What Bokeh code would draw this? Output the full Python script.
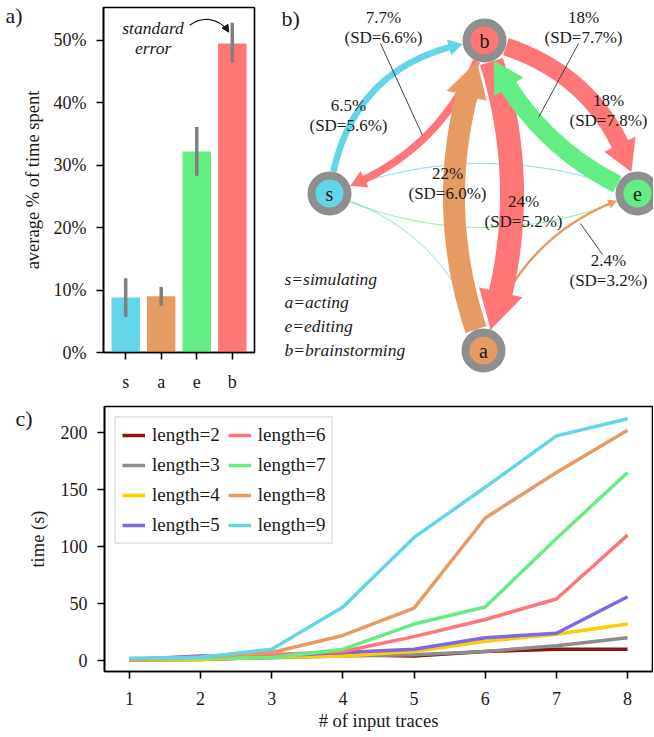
import numpy as np
from bokeh.plotting import figure
from bokeh.layouts import column, row
from bokeh.models import (Range1d, FixedTicker, PrintfTickFormatter, LinearAxis,
                          Legend, LegendItem, Arrow, NormalHead)
from bokeh.embed import file_html
from bokeh.resources import INLINE
from bokeh.core.properties import value

FONT = "Liberation Serif"
INK = "#1a1a1a"

# ---------------- data: panel a ----------------
activities = ["s", "a", "e", "b"]
activity_names = ["simulating", "acting", "editing", "brainstorming"]
activity_colors = ["#62D5E7", "#E59B62", "#63EE84", "#FF7676"]
time_share = [8.8, 9.0, 32.2, 49.5]
se_low = [5.7, 7.5, 28.3, 46.4]
se_high = [11.9, 10.5, 36.1, 52.8]

# ---------------- data: panel b (transitions) ----------------
edge_src = ["s", "e", "s", "a", "b", "s", "b", "b", "e", "a"]
edge_dst = ["e", "s", "a", "e", "s", "b", "e", "a", "b", "b"]
edge_pct = [0.9, 0.9, 0.8, 2.4, 7.7, 6.5, 18, 24, 18, 22]
edge_sd = [None, None, None, 3.2, 6.6, 5.6, 7.8, 5.2, 7.7, 6.0]

# ---------------- data: panel c ----------------
n_traces = [1, 2, 3, 4, 5, 6, 7, 8]
length_labels = ["length=2", "length=3", "length=4", "length=5",
                 "length=6", "length=7", "length=8", "length=9"]
time_len2 = [0.5, 1.0, 3.0, 5.0, 4.0, 8.0, 10.0, 10.0]
time_len3 = [1.0, 1.5, 2.5, 4.0, 5.0, 8.0, 13.0, 20.0]
time_len4 = [0.5, 1.0, 3.0, 4.0, 8.0, 17.0, 23.0, 32.0]
time_len5 = [1.0, 4.0, 4.0, 7.0, 10.0, 20.0, 24.0, 56.0]
time_len6 = [1.0, 3.0, 5.0, 8.0, 21.0, 36.0, 54.0, 110.0]
time_len7 = [1.0, 2.0, 2.5, 10.0, 32.0, 47.0, 107.0, 165.0]
time_len8 = [1.0, 3.0, 7.0, 22.0, 46.0, 125.0, 165.0, 202.0]
time_len9 = [2.0, 3.0, 10.0, 47.0, 108.0, 152.0, 197.0, 212.0]
length_colors = ["#8a1515", "#8c8c8c", "#FFCC00", "#7B68EE",
                 "#FF7676", "#63EE84", "#E59B62", "#62D5E7"]


def style_axes(p):
    for ax in p.axis:
        ax.axis_line_color = "black"
        ax.axis_line_width = 1.6
        ax.major_tick_line_color = "black"
        ax.major_tick_line_width = 1.6
        ax.major_tick_out = 7
        ax.major_tick_in = 0
        ax.minor_tick_out = 0
        ax.minor_tick_in = 0
        ax.major_label_text_font = FONT
        ax.major_label_text_font_size = "18px"
        ax.major_label_text_color = INK
        ax.major_label_standoff = 10
        ax.axis_label_text_font = FONT
        ax.axis_label_text_font_size = "18.5px"
        ax.axis_label_text_font_style = "normal"
        ax.axis_label_text_color = INK
    p.grid.visible = False
    p.outline_line_color = "black"
    p.outline_line_width = 1.6
    p.outline_line_alpha = 1.0


def panel_tag(p, tag, y, standoff):
    ax = LinearAxis(ticker=FixedTicker(ticks=[y]),
                    major_label_overrides={y: tag},
                    axis_line_color=None, major_tick_line_color=None,
                    minor_tick_line_color=None, major_tick_out=0,
                    major_tick_in=0, minor_tick_out=0, minor_tick_in=0,
                    major_label_standoff=standoff,
                    major_label_text_font=FONT,
                    major_label_text_font_size="22px",
                    major_label_text_color=INK)
    p.add_layout(ax, "left")


ROW_H = 394

# ================= panel a =================
idx = list(range(len(activities)))
pa = figure(width=280, height=ROW_H, x_range=Range1d(-0.625, 3.625),
            y_range=Range1d(0, 55.25), output_backend="svg",
            toolbar_location=None, min_border_left=103, min_border_right=26,
            min_border_top=7, min_border_bottom=ROW_H - 354)
pa.frame_align = False
pa.vbar(x=idx, top=time_share, width=0.8, fill_color=activity_colors,
        line_color=None)
pa.segment(x0=idx, y0=se_low, x1=idx, y1=se_high, line_color="#808080",
           line_width=3.5)
style_axes(pa)
pa.yaxis.ticker = FixedTicker(ticks=[0, 10, 20, 30, 40, 50])
pa.yaxis.formatter = PrintfTickFormatter(format="%d%%")
pa.yaxis.axis_label = "average % of time spent"
pa.yaxis.axis_label_standoff = 8
pa.xaxis.ticker = FixedTicker(ticks=idx)
pa.xaxis.major_label_overrides = {i: a for i, a in enumerate(activities)}
pa.xaxis.major_label_standoff = 12
panel_tag(pa, "a)", 54, -3)

# "standard error" annotation
pa.text(x=[0.77, 0.77], y=[52.0, 48.8], text=["standard", "error"],
        text_font=value(FONT), text_font_size="17.5px",
        text_font_style="italic", text_color=INK, text_align="center",
        text_baseline="middle")
pa.bezier(x0=[1.80], y0=[52.4], x1=[2.86], y1=[51.6], cx0=[2.15], cy0=[53.9],
          cx1=[2.60], cy1=[53.6], line_color=INK, line_width=1.2)
pa.add_layout(Arrow(end=NormalHead(size=7, fill_color=INK, line_color=INK),
                    x_start=2.80, y_start=52.2, x_end=2.90, y_end=51.3,
                    line_color=INK, line_width=1.2))

# ================= panel b =================
node_pos = {"b": (484, 40), "s": (329, 193), "e": (637, 193), "a": (483, 350)}
node_color = dict(zip(activities, activity_colors))
edge_sag = {("s", "e"): 30, ("e", "s"): 34, ("s", "a"): 30, ("a", "e"): 30,
            ("b", "s"): 27, ("s", "b"): 42, ("b", "e"): 33, ("b", "a"): 28,
            ("e", "b"): 22, ("a", "b"): 30}
label_pos = {("s", "b"): (348, 105), ("b", "s"): (383, 17),
             ("b", "e"): (608, 100), ("e", "b"): (583, 17),
             ("a", "b"): (447, 173), ("b", "a"): (523, 201),
             ("a", "e"): (608, 260)}
leaders = {("b", "s"): ((380, 43), (422, 135)),
           ("e", "b"): ((578, 43), (538, 117)),
           ("a", "e"): ((602, 254), (580, 223))}
PX_PER_PCT = 1.0
R_NODE = 22.0


def curve_points(p0, p2, sag, R=R_NODE, n=800):
    p0 = np.asarray(p0, float)
    p2 = np.asarray(p2, float)
    d = p2 - p0
    L = np.hypot(d[0], d[1])
    nrm = np.array([d[1], -d[0]]) / L
    c = (p0 + p2) / 2 + nrm * 2 * sag
    t = np.linspace(0, 1, n)[:, None]
    pts = (1 - t) ** 2 * p0 + 2 * (1 - t) * t * c + t ** 2 * p2
    keep = (np.hypot(*(pts - p0).T) >= R) & (np.hypot(*(pts - p2).T) >= R)
    return pts[keep]


def arrow_polygon(pts, w, hw, hl):
    seg = np.diff(pts, axis=0)
    s = np.concatenate([[0], np.cumsum(np.hypot(seg[:, 0], seg[:, 1]))])
    S = s[-1]
    tan = np.gradient(pts, axis=0)
    tan /= np.hypot(tan[:, 0], tan[:, 1])[:, None]
    nor = np.stack([-tan[:, 1], tan[:, 0]], axis=1)
    sb = S - hl
    m = s <= sb
    sh = pts[m]
    nh = nor[m]
    base = np.array([np.interp(sb, s, pts[:, 0]), np.interp(sb, s, pts[:, 1])])
    bn = nh[-1]
    left = sh + nh * w / 2
    right = sh - nh * w / 2
    poly = np.vstack([left, base + bn * w / 2, base + bn * hw / 2, pts[-1],
                      base - bn * hw / 2, base - bn * w / 2, right[::-1]])
    return list(poly[:, 0]), list(poly[:, 1])


pb = figure(width=373, height=ROW_H, x_range=Range1d(280, 653),
            y_range=Range1d(ROW_H, 0), output_backend="svg",
            toolbar_location=None, min_border=0,
            x_axis_location=None, y_axis_location=None)
pb.frame_align = False
pb.grid.visible = False
pb.outline_line_color = None

thin_x, thin_y, thin_c, thin_w = [], [], [], []
pat_x, pat_y, pat_c = [], [], []
for src, dst, pct in zip(edge_src, edge_dst, edge_pct):
    pts = curve_points(node_pos[src], node_pos[dst], edge_sag[(src, dst)])
    w = pct * PX_PER_PCT
    if w < 2:
        thin_x.append(list(pts[:, 0]))
        thin_y.append(list(pts[:, 1]))
        thin_c.append(node_color[src])
        thin_w.append(max(w, 1.0))
    else:
        hw = 1.6 * w + 6
        hl = 1.4 * w + 5
        xs, ys = arrow_polygon(pts, w, hw, hl)
        pat_x.append(xs)
        pat_y.append(ys)
        pat_c.append(node_color[src])

pb.multi_line(xs=thin_x, ys=thin_y, line_color=thin_c, line_width=thin_w)
pb.patches(xs=pat_x, ys=pat_y, fill_color=pat_c, line_color=None)

for key, (q0, q1) in leaders.items():
    pb.line(x=[q0[0], q1[0]], y=[q0[1], q1[1]], line_color="#444444",
            line_width=1)

lx, ly, lt = [], [], []
for src, dst, pct, sd in zip(edge_src, edge_dst, edge_pct, edge_sd):
    if sd is None:
        continue
    x0, y0 = label_pos[(src, dst)]
    lx += [x0, x0]
    ly += [y0, y0 + 20]
    lt += [f"{pct:g}%", f"(SD={sd:.1f}%)"]
pb.text(x=lx, y=ly, text=lt, text_font=value(FONT), text_font_size="17px",
        text_color=INK, text_align="center", text_baseline="middle")

nx = [node_pos[a][0] for a in activities]
ny = [node_pos[a][1] for a in activities]
pb.scatter(x=nx, y=ny, size=36, fill_color=activity_colors,
           line_color="#8f8f8f", line_width=8)
pb.text(x=nx, y=ny, text=activities, text_font=value(FONT),
        text_font_size="20px", text_color=INK, text_align="center",
        text_baseline="middle")

pb.text(x=[284] * 4, y=[278 + 23.7 * i for i in range(4)],
        text=[f"{a}={n}" for a, n in zip(activities, activity_names)],
        text_font=value(FONT), text_font_size="17.5px",
        text_font_style="italic", text_color=INK, text_align="left",
        text_baseline="middle")
pb.text(x=[281], y=[18], text=["b)"], text_font=value(FONT),
        text_font_size="22px", text_color=INK, text_align="left",
        text_baseline="middle")

# ================= panel c =================
PC_H = 736 - ROW_H
pc = figure(width=653, height=PC_H, x_range=Range1d(0.65, 8.35),
            y_range=Range1d(-9.6, 222.8), output_backend="svg",
            toolbar_location=None, min_border_left=104, min_border_right=1,
            min_border_top=406 - ROW_H, min_border_bottom=736 - 671)
pc.frame_align = False
series = [time_len2, time_len3, time_len4, time_len5,
          time_len6, time_len7, time_len8, time_len9]
items = []
for lab, ys, col in zip(length_labels, series, length_colors):
    r = pc.line(x=n_traces, y=ys, line_color=col, line_width=3.5)
    items.append(LegendItem(label=lab, renderers=[r]))
style_axes(pc)
pc.xaxis.ticker = FixedTicker(ticks=n_traces)
pc.yaxis.ticker = FixedTicker(ticks=[0, 50, 100, 150, 200])
pc.xaxis.axis_label = "# of input traces"
pc.xaxis.major_label_standoff = 13
pc.xaxis.axis_label_standoff = 3
pc.yaxis.axis_label = "time (s)"
pc.yaxis.axis_label_standoff = 10
panel_tag(pc, "c)", 212, -8)

legend = Legend(items=items, location="top_left", nrows=4,
                orientation="vertical")
legend.label_text_font = FONT
legend.label_text_font_size = "19px"
legend.label_text_color = INK
legend.glyph_width = 23
legend.glyph_height = 22
legend.label_height = 22
legend.label_standoff = 7
legend.spacing = 8
legend.padding = 6
legend.margin = 10
legend.border_line_color = "#cccccc"
legend.border_line_width = 2
legend.background_fill_alpha = 0.8
pc.add_layout(legend)

layout = column(row(pa, pb), pc)
open("out.html", "w").write(file_html(layout, INLINE))
